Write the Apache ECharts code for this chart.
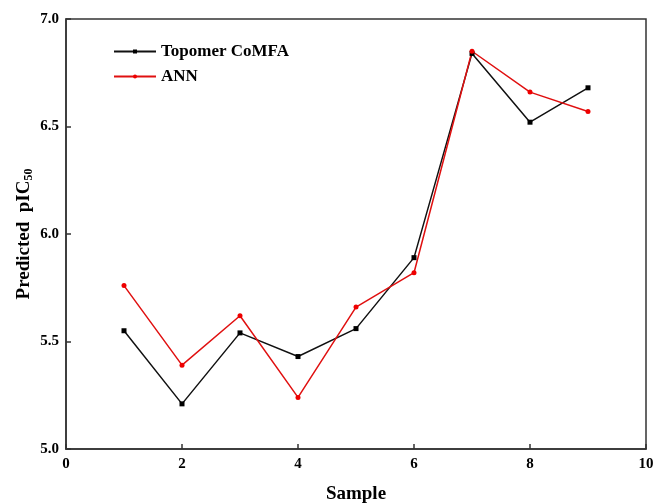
<!DOCTYPE html>
<html style="height: 100%">
<head>
    <meta charset="utf-8">
</head>
<body style="height: 100%; margin: 0; background: #fff">
    <div id="container" style="width: 655px; height: 503px"></div>
    <script type="text/javascript" src="https://cdn.jsdelivr.net/npm/echarts@6/dist/echarts.min.js"></script>
    <script type="text/javascript">
        var samples = [1, 2, 3, 4, 5, 6, 7, 8, 9];
        var topomer = [5.55, 5.21, 5.54, 5.43, 5.56, 5.89, 6.84, 6.52, 6.68];
        var ann = [5.76, 5.39, 5.62, 5.24, 5.66, 5.82, 6.85, 6.66, 6.57];

        var font = 'Liberation Serif';
        var axisColor = '#333';

        function pairs(ys) {
            return samples.map(function (x, i) { return [x, ys[i]]; });
        }

        var myChart = echarts.init(document.getElementById('container'));
        var option = {
            animation: false,
            grid: {
                left: 66, right: 9, top: 19, bottom: 54,
                outerBoundsMode: 'none',
                show: true, borderColor: axisColor, borderWidth: 1.5
            },
            legend: {
                orient: 'vertical',
                left: 108, top: 38,
                itemWidth: 42, itemHeight: 5, itemGap: 8,
                textStyle: { fontFamily: font, fontWeight: 'bold', fontSize: 17, color: '#000' },
                data: ['Topomer CoMFA', 'ANN']
            },
            xAxis: {
                type: 'value',
                min: 0, max: 10, interval: 2,
                name: 'Sample',
                nameLocation: 'middle',
                nameGap: 36,
                nameMoveOverlap: false,
                nameTextStyle: { fontFamily: font, fontWeight: 'bold', fontSize: 19, color: '#000' },
                axisLine: { lineStyle: { color: axisColor, width: 1.5 } },
                axisTick: { inside: true, length: 5, lineStyle: { color: axisColor, width: 1.5 } },
                axisLabel: { fontFamily: font, fontWeight: 'bold', fontSize: 15, color: '#000', margin: 8 },
                splitLine: { show: false }
            },
            yAxis: {
                type: 'value',
                min: 5.0, max: 7.0, interval: 0.5,
                name: '{a|Predicted  pIC}{s|50}',
                nameLocation: 'middle',
                nameGap: 31,
                nameMoveOverlap: false,
                nameTextStyle: {
                    fontFamily: font, fontWeight: 'bold', fontSize: 19, color: '#000',
                    rich: {
                        a: { fontFamily: font, fontWeight: 'bold', fontSize: 19, color: '#000' },
                        s: { fontFamily: font, fontWeight: 'bold', fontSize: 12, color: '#000', padding: [9, 0, 0, 0] }
                    }
                },
                axisLine: { lineStyle: { color: axisColor, width: 1.5 } },
                axisTick: { inside: true, length: 5, lineStyle: { color: axisColor, width: 1.5 } },
                axisLabel: {
                    fontFamily: font, fontWeight: 'bold', fontSize: 15, color: '#000', margin: 7,
                    formatter: function (v) { return v.toFixed(1); }
                },
                splitLine: { show: false }
            },
            series: [
                {
                    name: 'Topomer CoMFA',
                    type: 'line',
                    data: pairs(topomer),
                    symbol: 'rect',
                    symbolSize: 5,
                    lineStyle: { color: '#111', width: 1.5 },
                    itemStyle: { color: '#000' }
                },
                {
                    name: 'ANN',
                    type: 'line',
                    data: pairs(ann),
                    symbol: 'circle',
                    symbolSize: 5,
                    lineStyle: { color: '#e01010', width: 1.5 },
                    itemStyle: { color: '#ee0000' }
                }
            ]
        };
        myChart.setOption(option);
    </script>
</body>
</html>
